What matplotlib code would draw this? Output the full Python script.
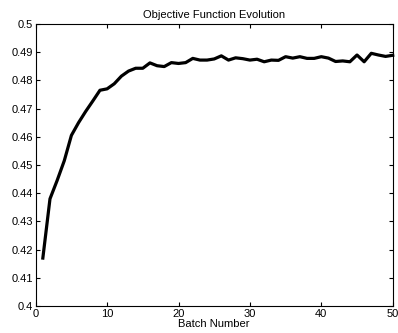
import matplotlib
matplotlib.use("Agg")
import matplotlib.pyplot as plt

batch = list(range(1, 51))
objective = [0.417, 0.438, 0.4445, 0.4515, 0.4605, 0.465, 0.469, 0.4727, 0.4765, 0.477,
             0.4788, 0.4815, 0.4833, 0.4843, 0.4843, 0.4862, 0.4852, 0.4849, 0.4863, 0.486,
             0.4863, 0.4878, 0.4872, 0.4872, 0.4876, 0.4887, 0.4872, 0.488, 0.4877, 0.4872,
             0.4875, 0.4866, 0.4872, 0.4871, 0.4884, 0.4879, 0.4884, 0.4878, 0.4878, 0.4884,
             0.4879, 0.4867, 0.4869, 0.4866, 0.489, 0.4866, 0.4896, 0.489, 0.4885, 0.4889]
xticks = [0, 10, 20, 30, 40, 50]
yticks = [0.4, 0.41, 0.42, 0.43, 0.44, 0.45, 0.46, 0.47, 0.48, 0.49, 0.5]
ytick_labels = ["0.4", "0.41", "0.42", "0.43", "0.44", "0.45", "0.46", "0.47", "0.48", "0.49", "0.5"]

plt.rcParams['font.family'] = ['Liberation Sans', 'DejaVu Sans']
fig = plt.figure(figsize=(3.98, 3.33), dpi=100)
ax = fig.add_axes([0.0897, 0.081, 0.897, 0.847])
ax.plot(batch, objective, color='black', linewidth=2.3, clip_on=False)
ax.set_xlim(0, 50)
ax.set_ylim(0.4, 0.5)
ax.set_xticks(xticks)
ax.set_xticklabels([str(t) for t in xticks])
ax.set_yticks(yticks)
ax.set_yticklabels(ytick_labels)
ax.tick_params(direction='in', top=True, right=True, length=3, width=0.8, labelsize=8, pad=2)
for s in ax.spines.values():
    s.set_linewidth(0.8)
ax.set_title('Objective Function Evolution', fontsize=8, pad=4)
ax.set_xlabel('Batch Number', fontsize=8, labelpad=0.5)
fig.savefig('out.png', dpi=100)
